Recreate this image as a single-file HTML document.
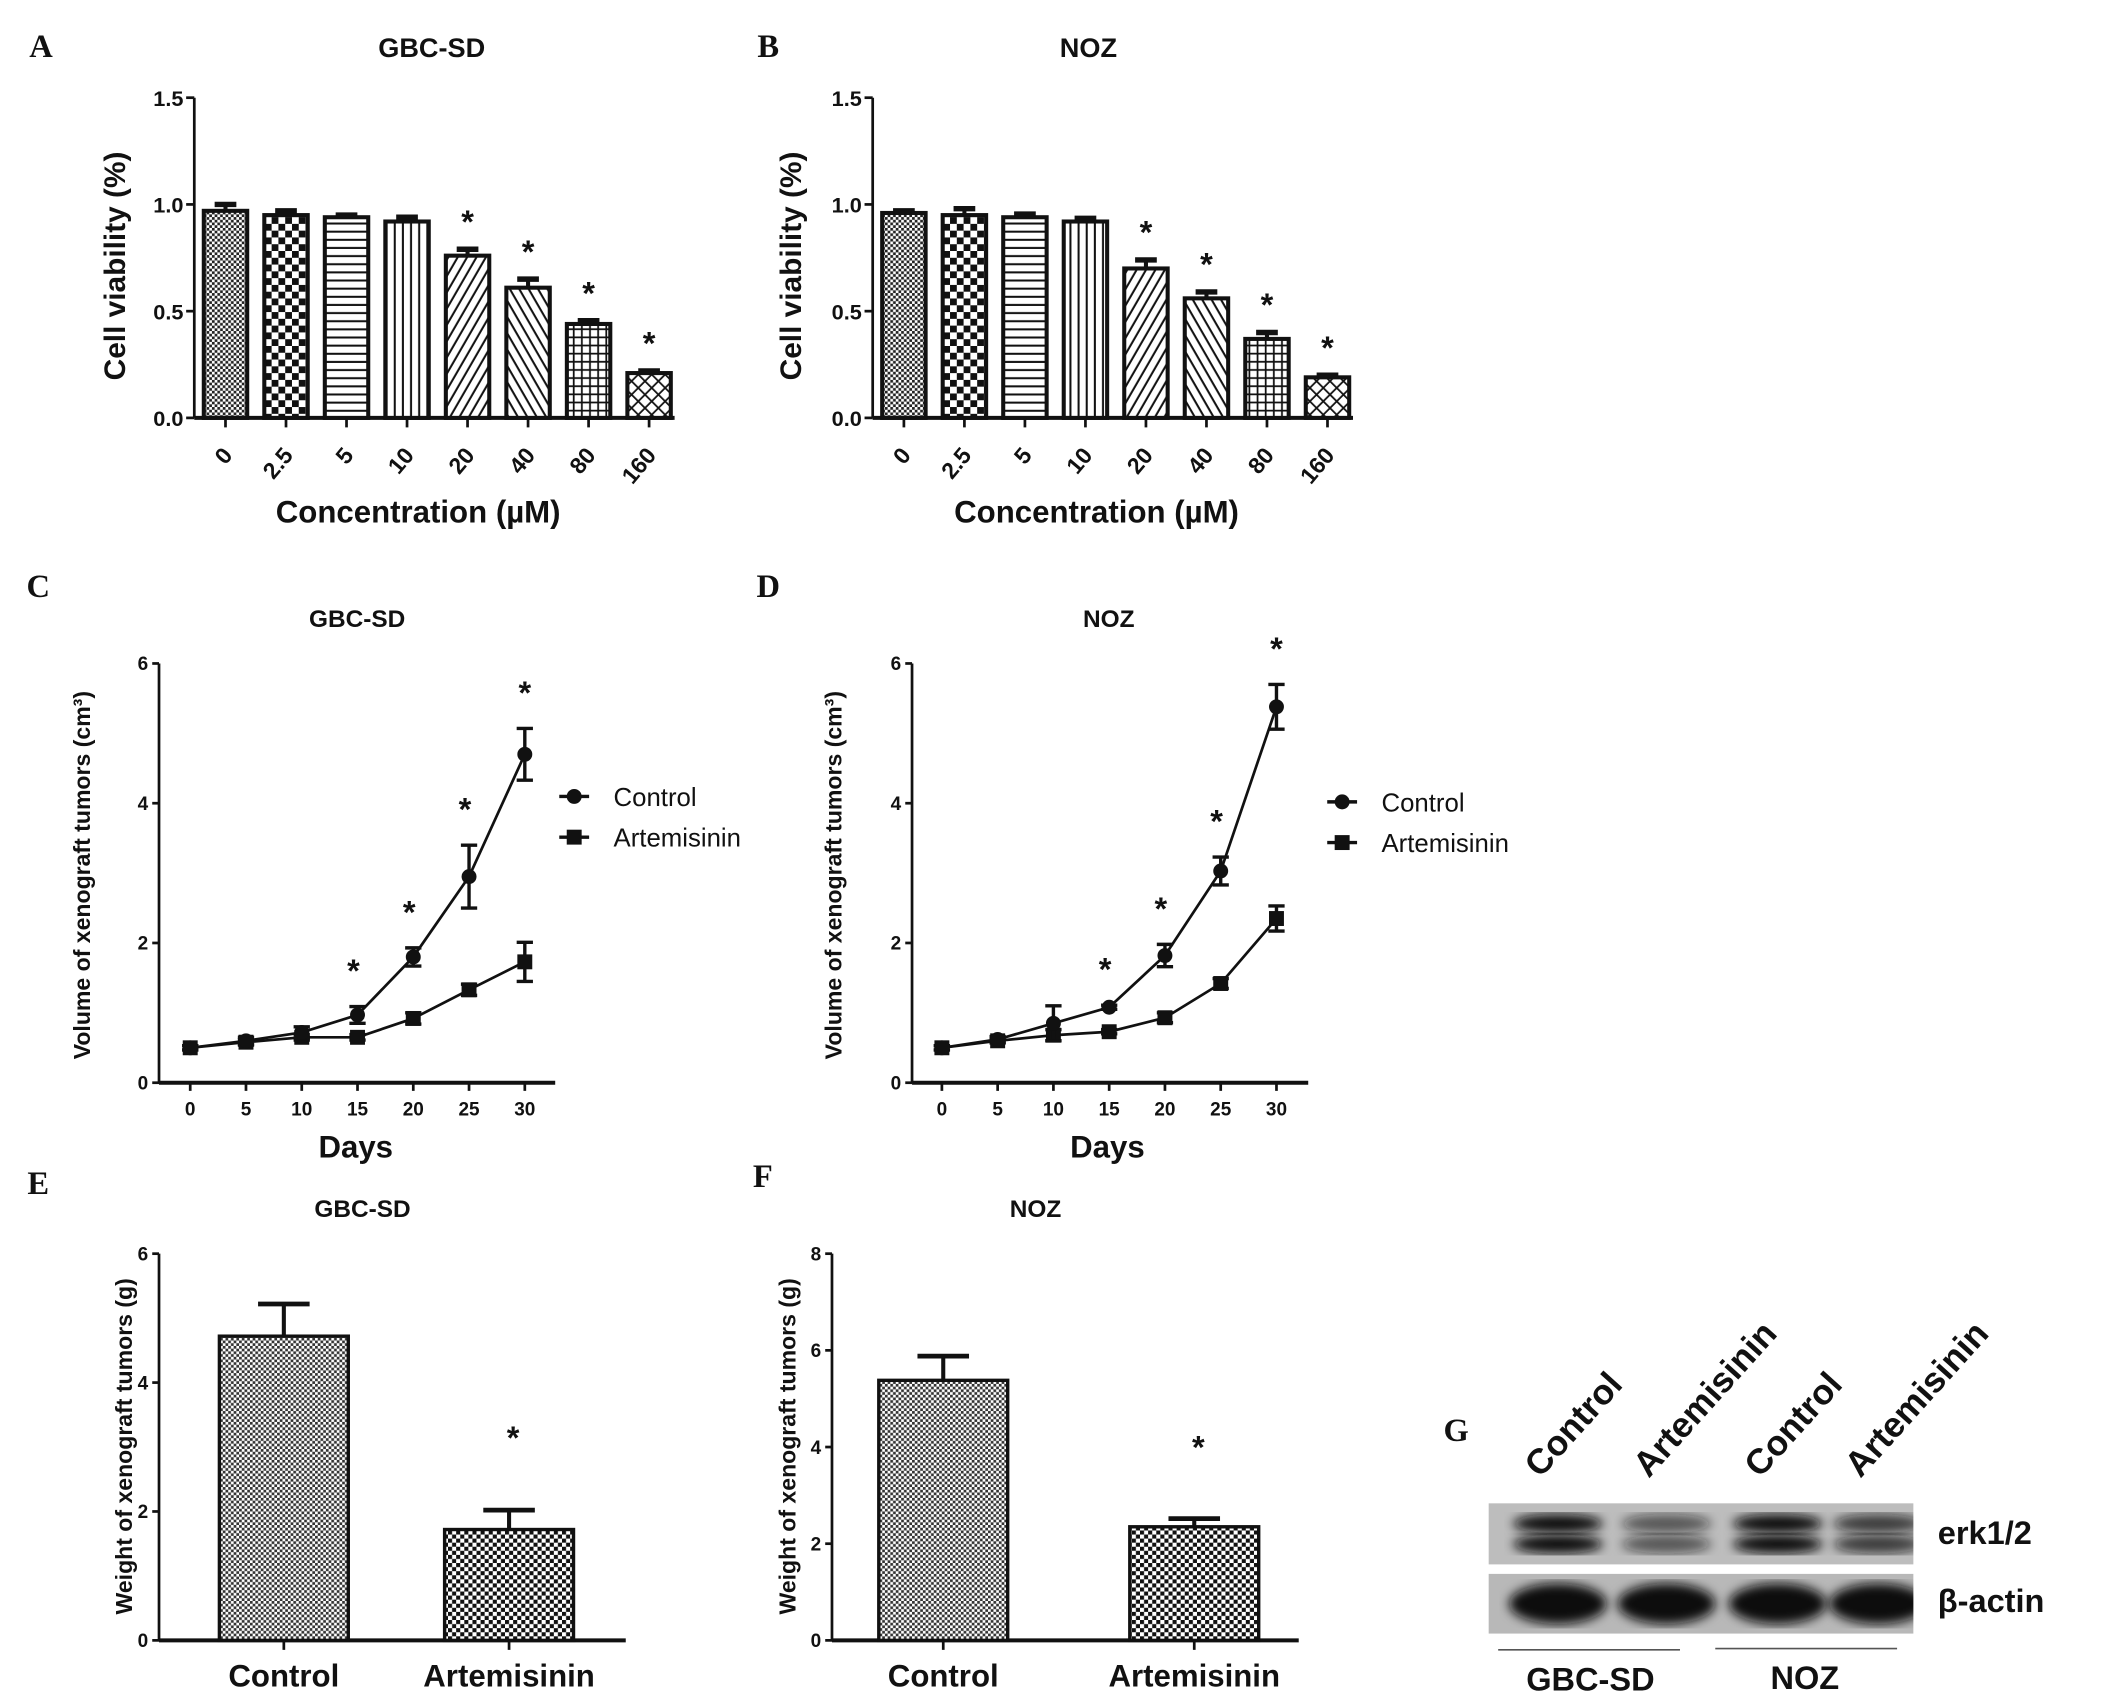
<!DOCTYPE html>
<html><head><meta charset="utf-8"><style>
html,body{margin:0;padding:0;background:#fff;}
svg{display:block;font-family:"Liberation Sans",sans-serif;}
</style></head><body>
<svg id="fig" width="2128" height="1696" viewBox="0 0 1568 1250" xmlns="http://www.w3.org/2000/svg">
<defs>
<pattern id="p0" width="4" height="4" patternUnits="userSpaceOnUse"><rect width="4" height="4" fill="#fff"/><rect width="2" height="2" fill="#222"/><rect x="2" y="2" width="2" height="2" fill="#222"/></pattern>
<pattern id="p1" width="10" height="10" patternUnits="userSpaceOnUse"><rect width="10" height="10" fill="#fff"/><rect width="5" height="5" fill="#111"/><rect x="5" y="5" width="5" height="5" fill="#111"/></pattern>
<pattern id="p2" width="6" height="6" patternUnits="userSpaceOnUse"><rect width="6" height="6" fill="#fff"/><rect y="2" width="6" height="1.5" fill="#111"/></pattern>
<pattern id="p3" width="6" height="6" patternUnits="userSpaceOnUse"><rect width="6" height="6" fill="#fff"/><rect x="2" width="1.5" height="6" fill="#111"/></pattern>
<pattern id="p4" width="6" height="6" patternUnits="userSpaceOnUse" patternTransform="rotate(30)"><rect width="6" height="6" fill="#fff"/><rect x="2" width="1.5" height="6" fill="#111"/></pattern>
<pattern id="p5" width="6" height="6" patternUnits="userSpaceOnUse" patternTransform="rotate(-30)"><rect width="6" height="6" fill="#fff"/><rect x="2" width="1.5" height="6" fill="#111"/></pattern>
<pattern id="p6" width="6" height="6" patternUnits="userSpaceOnUse"><rect width="6" height="6" fill="#fff"/><rect x="2" width="1.3" height="6" fill="#111"/><rect y="2" width="6" height="1.3" fill="#111"/></pattern>
<pattern id="p7" width="7" height="7" patternUnits="userSpaceOnUse" patternTransform="rotate(45)"><rect width="7" height="7" fill="#fff"/><rect x="2" width="1.3" height="7" fill="#111"/><rect y="2" width="7" height="1.3" fill="#111"/></pattern>
<pattern id="pe" width="4" height="4" patternUnits="userSpaceOnUse"><rect width="4" height="4" fill="#fff"/><rect width="2" height="2" fill="#333"/><rect x="2" y="2" width="2" height="2" fill="#333"/></pattern>
<pattern id="pf" width="6" height="6" patternUnits="userSpaceOnUse"><rect width="6" height="6" fill="#fff"/><rect width="3" height="3" fill="#111"/><rect x="3" y="3" width="3" height="3" fill="#111"/></pattern>
<filter id="blur"><feGaussianBlur stdDeviation="4"/></filter>
<clipPath id="clip1"><rect x="1097" y="1108" width="313" height="45"/></clipPath>
<clipPath id="clip2"><rect x="1097" y="1160" width="313" height="44"/></clipPath>
</defs>
<g id="root"></g>
</svg>
<script>
// ---- data ----
var concCats = ["0","2.5","5","10","20","40","80","160"];
var viabA = [0.97,0.95,0.94,0.92,0.76,0.61,0.44,0.21];
var viabAErr = [0.03,0.02,0.01,0.02,0.03,0.04,0.015,0.01];
var viabB = [0.96,0.95,0.94,0.92,0.70,0.56,0.37,0.19];
var viabBErr = [0.01,0.03,0.015,0.015,0.04,0.03,0.03,0.01];
var viabStars = [false,false,false,false,true,true,true,true];
var viabTicks = ["0.0","0.5","1.0","1.5"];
var days = [0,5,10,15,20,25,30];
var volCtrlC = [0.5,0.6,0.72,0.97,1.8,2.95,4.7];
var volCtrlCErr = [0.03,0.05,0.08,0.12,0.13,0.45,0.37];
var volArtC = [0.5,0.58,0.65,0.65,0.92,1.33,1.73];
var volArtCErr = [0.03,0.04,0.04,0.04,0.08,0.08,0.28];
var volCtrlD = [0.5,0.62,0.85,1.08,1.82,3.03,5.38];
var volCtrlDErr = [0.03,0.04,0.25,0.03,0.16,0.2,0.32];
var volArtD = [0.5,0.6,0.68,0.73,0.93,1.42,2.35];
var volArtDErr = [0.03,0.03,0.08,0.03,0.07,0.07,0.18];
var volStars = [false,false,false,true,true,true,true];
var volTicks = [0,2,4,6];
var wCats = ["Control","Artemisinin"];
var wE = [4.72,1.72];
var wEErr = [0.5,0.3];
var wF = [5.38,2.35];
var wFErr = [0.5,0.17];
var wTicksE = [0,2,4,6];
var wTicksF = [0,2,4,6,8];

var NS="http://www.w3.org/2000/svg";
var root=document.getElementById('root');
function mk(tag,attrs,parent,text){var e=document.createElementNS(NS,tag);for(var k in attrs)e.setAttribute(k,attrs[k]);if(text!==undefined)e.textContent=text;(parent||root).appendChild(e);return e;}
function txt(x,y,s,size,opts,name){opts=opts||{};var a={x:x,y:y,'font-size':size,'text-anchor':opts.anchor||'middle','font-weight':opts.weight||'bold',fill:'#111'};if(opts.family)a['font-family']=opts.family;if(opts.rot!==undefined)a.transform='rotate('+opts.rot+' '+x+' '+y+')';var t=mk('text',a,opts.parent,s);


return t;}
function line(x1,y1,x2,y2,w,name,g){var l=mk('line',{x1:x1,y1:y1,x2:x2,y2:y2,stroke:'#111','stroke-width':w||2},g);


return l;}
function star(x,y,name){txt(x,y,'*',24,{weight:'bold'},name);}

// ---- panels A/B ----
function viabPanel(px,label,title,vals,errs,ylabX,labX,titleX){
  var g=mk('g',{});
  
  
  var y0=308,y1=72,ax=px;
  function ys(v){return y0-(v/1.5)*(y0-y1);}
  function xs(i){return ax+23+i*44.6;}
  txt(labX,42,label,24,{family:'Liberation Serif',parent:g},'panel-label-'+label.toLowerCase());
  txt(titleX,42,title,20,{parent:g},'chart-title');
  line(ax,y1,ax,y0,2,'y-axis',g);
  line(ax,y0,ax+354,y0,3,'x-axis',g);
  for(var t=0;t<viabTicks.length;t++){var v=parseFloat(viabTicks[t]);line(ax-6,ys(v),ax,ys(v),2,'y-tick',g);txt(ax-8,ys(v)+6,viabTicks[t],16,{anchor:'end',parent:g},'y-tick-label');}
  var pats=['p0','p1','p2','p3','p4','p5','p6','p7'];
  for(var i=0;i<vals.length;i++){
    var cx=xs(i),w=32;
    var r=mk('rect',{x:cx-w/2,y:ys(vals[i]),width:w,height:y0-ys(vals[i]),fill:'url(#'+pats[i]+')',stroke:'#111','stroke-width':3},g);
    
    
    line(cx,ys(vals[i]),cx,ys(vals[i]+errs[i]),3,'error-bar',g);
    line(cx-8,ys(vals[i]+errs[i]),cx+8,ys(vals[i]+errs[i]),4,'error-cap',g);
    line(cx,y0,cx,y0+7,2,'x-tick',g);
    txt(cx+6,y0+28,concCats[i],17,{anchor:'end',rot:-50,parent:g},'x-tick-label');
    if(viabStars[i])star(cx,ys(vals[i]+errs[i])-12,'significance-star');
  }
  txt(ax+165,y0+77,'Concentration (µM)',23,{parent:g},'x-axis-title');
  txt(ylabX,y0-112,'Cell viability (%)',22,{rot:-90,parent:g},'y-axis-title');
}
viabPanel(143,'A','GBC-SD',viabA,viabAErr,92,30,318);
viabPanel(643,'B','NOZ',viabB,viabBErr,590,566,802);

// ---- panels C/D ----
function volPanel(ax,x0,label,title,ctrl,ctrlE,art,artE,labX,ylabX,legX,legY){
  var g=mk('g',{});
  
  
  var y0=798,y6=489;
  function ys(v){return y0-(v/6)*(y0-y6);}
  function xs(d){return x0+d*8.22;}
  txt(labX,440,label,24,{family:'Liberation Serif',parent:g},'panel-label-'+label.toLowerCase());
  txt(x0+123,462,title,18,{parent:g},'chart-title');
  line(ax,y6,ax,y0,2,'y-axis',g);
  line(ax,y0,ax+292,y0,3,'x-axis',g);
  for(var t=0;t<volTicks.length;t++){line(ax-5,ys(volTicks[t]),ax,ys(volTicks[t]),2,'y-tick',g);txt(ax-8,ys(volTicks[t])+5,String(volTicks[t]),14,{anchor:'end',parent:g},'y-tick-label');}
  for(var i=0;i<days.length;i++){line(xs(days[i]),y0,xs(days[i]),y0+6,2,'x-tick',g);txt(xs(days[i]),y0+24,String(days[i]),14,{parent:g},'x-tick-label');}
  function series(vals,errs,sq,name){
    var pts=vals.map(function(v,i){return xs(days[i])+','+ys(v);}).join(' ');
    var pl=mk('polyline',{points:pts,fill:'none',stroke:'#111','stroke-width':2},g);
    
    
    for(var i=0;i<vals.length;i++){
      var x=xs(days[i]),yt=ys(vals[i]+errs[i]),yb=ys(vals[i]-errs[i]);
      line(x,yt,x,yb,2.5,name+'-error',g);line(x-6,yt,x+6,yt,2.5,'error-cap',g);line(x-6,yb,x+6,yb,2.5,'error-cap',g);
      var m=sq?mk('rect',{x:x-5.5,y:ys(vals[i])-5.5,width:11,height:11,fill:'#111'},g):mk('circle',{cx:x,cy:ys(vals[i]),r:5.5,fill:'#111'},g);
      
      
    }
  }
  series(art,artE,true,'artemisinin');
  series(ctrl,ctrlE,false,'control');
  for(var i=0;i<days.length;i++)if(volStars[i])star(xs(days[i])-(i==days.length-1?0:3),ys(ctrl[i]+ctrlE[i])-18,'significance-star');
  txt(x0+122,853,'Days',23,{parent:g},'x-axis-title');
  txt(ylabX,645,'Volume of xenograft tumors (cm³)',17,{rot:-90,parent:g},'y-axis-title');
  var lg=mk('g',{},g);
  
  
  line(legX,legY,legX+22,legY,2.5,'legend-control-line',lg);mk('circle',{cx:legX+11,cy:legY,r:5.5,fill:'#111'},lg);
  txt(legX+40,legY+7,'Control',19,{anchor:'start',weight:'normal',parent:lg},'legend-control');
  line(legX,legY+30,legX+22,legY+30,2.5,'legend-artemisinin-line',lg);mk('rect',{x:legX+5.5,y:legY+24.5,width:11,height:11,fill:'#111'},lg);
  txt(legX+40,legY+37,'Artemisinin',19,{anchor:'start',weight:'normal',parent:lg},'legend-artemisinin');
}
volPanel(117,140,'C','GBC-SD',volCtrlC,volCtrlCErr,volArtC,volArtCErr,28,66,412,587);
volPanel(672,694,'D','NOZ',volCtrlD,volCtrlDErr,volArtD,volArtDErr,566,620,978,591);

// ---- panels E/F ----
function wPanel(ax,label,title,vals,errs,ticks,ymax,cxs,pats,labX,labY,ylabX,starY){
  var g=mk('g',{});
  
  
  var y0=1209,yt=924;
  function ys(v){return y0-(v/ymax)*(y0-yt);}
  txt(labX,labY,label,24,{family:'Liberation Serif',parent:g},'panel-label-'+label.toLowerCase());
  txt(ax+150,897,title,18,{parent:g},'chart-title');
  line(ax,yt,ax,y0,2,'y-axis',g);
  line(ax,y0,ax+344,y0,3,'x-axis',g);
  for(var t=0;t<ticks.length;t++){line(ax-5,ys(ticks[t]),ax,ys(ticks[t]),2,'y-tick',g);txt(ax-8,ys(ticks[t])+5,String(ticks[t]),14,{anchor:'end',parent:g},'y-tick-label');}
  for(var i=0;i<vals.length;i++){
    var cx=cxs[i],w=95;
    var r=mk('rect',{x:cx-w/2,y:ys(vals[i]),width:w,height:y0-ys(vals[i]),fill:'url(#'+pats[i]+')',stroke:'#111','stroke-width':2.5},g);
    
    
    line(cx,ys(vals[i]),cx,ys(vals[i]+errs[i]),3,'error-bar',g);
    line(cx-19,ys(vals[i]+errs[i]),cx+19,ys(vals[i]+errs[i]),3.5,'error-cap',g);
    line(cx,y0,cx,y0+7,2,'x-tick',g);
    txt(cx,y0+34,wCats[i],23,{parent:g},'x-tick-label');
  }
  star(cxs[1]+3,starY,'significance-star');
  txt(ylabX,1066,'Weight of xenograft tumors (g)',17,{rot:-90,parent:g},'y-axis-title');
}
wPanel(117,'E','GBC-SD',wE,wEErr,wTicksE,6,[209,375],['pe','pf'],28,880,97,1068);
wPanel(613,'F','NOZ',wF,wFErr,wTicksF,8,[695,880],['pe','pf'],562,875,586,1075);

// ---- panel G (western blot) ----
(function(){
  var g=mk('g',{});
  
  
  txt(1073,1062,'G',24,{family:'Liberation Serif',parent:g},'panel-label-g');
  var lanes=[1150,1230,1312,1386],names=['Control','Artemisinin','Control','Artemisinin'];
  for(var i=0;i<4;i++)txt(lanes[i]-15,1090,names[i],26,{anchor:'start',rot:-48,parent:g},'lane-label');
  var b1=mk('rect',{x:1097,y:1108,width:313,height:45,fill:'#bdbdbd'},g);
  
  
  var b2=mk('rect',{x:1097,y:1160,width:313,height:44,fill:'#b8b8b8'},g);
  
  
  var g1=mk('g',{'clip-path':'url(#clip1)'},g),g2=mk('g',{'clip-path':'url(#clip2)'},g);
  var erkW=[1,0.6,1,0.75];
  for(var i=0;i<4;i++){
    var c='rgba(15,15,15,'+erkW[i]+')';
    mk('ellipse',{cx:lanes[i]-2,cy:1123,rx:33,ry:7,fill:c,filter:'url(#blur)'},g1);
    mk('ellipse',{cx:lanes[i]-2,cy:1138,rx:33,ry:7,fill:c,filter:'url(#blur)'},g1);
    mk('ellipse',{cx:lanes[i]-2,cy:1182,rx:36,ry:15,fill:'#0d0d0d',filter:'url(#blur)'},g2);
  }
  txt(1428,1138,'erk1/2',24,{anchor:'start',parent:g},'erk-label');
  txt(1428,1188,'β-actin',24,{anchor:'start',parent:g},'actin-label');
  mk('line',{x1:1104,y1:1216,x2:1238,y2:1216,stroke:'#555','stroke-width':1.2},g);
  mk('line',{x1:1264,y1:1215,x2:1398,y2:1215,stroke:'#555','stroke-width':1.2},g);
  txt(1172,1246,'GBC-SD',24,{parent:g},'group-label-gbc-sd');
  txt(1330,1245,'NOZ',24,{parent:g},'group-label-noz');
})();
</script>
</body></html>
